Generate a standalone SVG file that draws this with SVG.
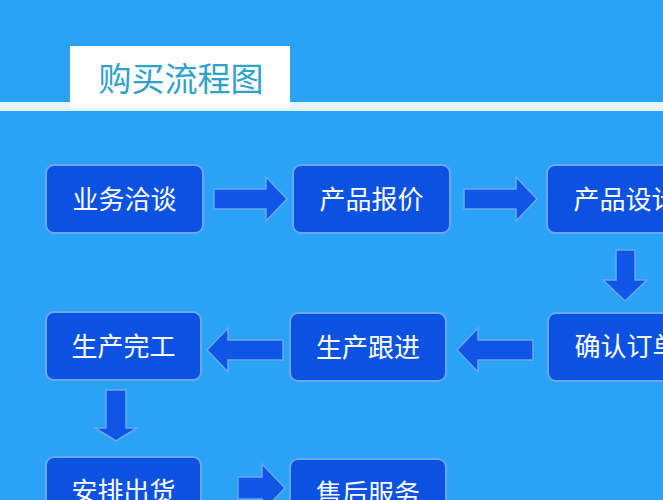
<svg xmlns="http://www.w3.org/2000/svg" width="663" height="500" viewBox="0 0 663 500">
<style>
.n rect{fill:#0b52e3;stroke:#6aa8f2;stroke-width:2}
.n text{fill:#fff;font-family:"Liberation Serif","Noto Sans CJK SC",serif;font-size:26px;text-anchor:middle}
.a{fill:#0f56e6;stroke:#6aa8f2;stroke-width:1.5}
</style>
<rect width="663" height="500" fill="#2aa3f6"/>
<rect x="0" y="102" width="663" height="9" fill="#e6f4fc"/>
<rect x="70" y="46" width="220" height="62" fill="#fff"/>
<text x="181" y="91" font-family="Noto Sans CJK SC,sans-serif" font-size="33" fill="#2ea2c9" text-anchor="middle">购买流程图</text>
<g id="n1" class="n"><rect x="46" y="165" width="157" height="68" rx="8"/><text x="124.5" y="209">业务洽谈</text></g>
<g id="n2" class="n"><rect x="293" y="165" width="157" height="68" rx="8"/><text x="371.5" y="209">产品报价</text></g>
<g id="n3" class="n"><rect x="547" y="165" width="157" height="68" rx="8"/><text x="625.5" y="209">产品设计</text></g>
<g id="n4" class="n"><rect x="548" y="313" width="157" height="68" rx="8"/><text x="626.5" y="356">确认订单</text></g>
<g id="n5" class="n"><rect x="290" y="313" width="156" height="68" rx="8"/><text x="368" y="357">生产跟进</text></g>
<g id="n6" class="n"><rect x="46" y="312" width="155" height="68" rx="8"/><text x="123.5" y="356">生产完工</text></g>
<g id="n7" class="n"><rect x="46" y="457" width="155" height="68" rx="8"/><text x="123.5" y="501">安排出货</text></g>
<g id="n8" class="n"><rect x="290" y="459" width="156" height="68" rx="8"/><text x="368" y="503">售后服务</text></g>
<g id="connectors">
<polygon class="a" points="214,189 266,189 266,177 287,199 266,221 266,209 214,209"/>
<polygon class="a" points="464,189 516,189 516,177 537,199 516,221 516,209 464,209"/>
<polygon class="a" points="616,250 635,250 635,280 647,280 625,301 603,280 616,280"/>
<polygon class="a" points="283,340 228,340 228,328 207,350 228,372 228,360 283,360"/>
<polygon class="a" points="533,340 478,340 478,328 457,350 478,372 478,360 533,360"/>
<polygon class="a" points="106,390 126,390 126,428 137,428 116,441 95,428 106,428"/>
<polygon class="a" points="238,477 262,477 262,464 285,488 262,512 262,499 238,499"/>
</g>
</svg>
